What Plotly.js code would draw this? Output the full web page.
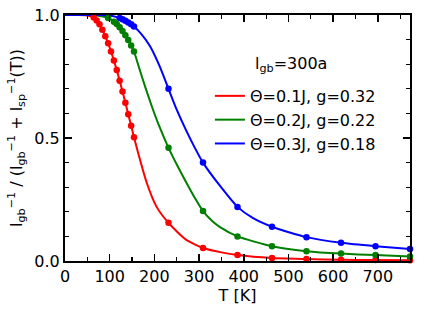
<!DOCTYPE html>
<html>
<head>
<meta charset="utf-8">
<script src="https://cdn.plot.ly/plotly-3.0.1.min.js"></script>
<style>html,body{margin:0;padding:0;background:#fff;}#chart{width:432px;height:309px;}</style>
</head>
<body>
<div id="chart"></div>
<script>
// Legend labels
const seriesNames = ["\u0398=0.1J, g=0.32", "\u0398=0.2J, g=0.22", "\u0398=0.3J, g=0.18"];
const seriesColors = ["#ff0000", "#008000", "#0000ff"];

// Marker temperatures (coarse grid, shared)
const T_coarse = [231.6, 308.8, 386, 463.2, 540.4, 617.6, 694.8, 772];
const red_coarse = [0.155, 0.053, 0.024, 0.012, 0.008, 0.005, 0.004, 0.003];
const green_coarse = [0.46, 0.203, 0.10, 0.06, 0.04, 0.03, 0.024, 0.018];
const blue_coarse = [0.70, 0.40, 0.22, 0.139, 0.097, 0.074, 0.060, 0.049];

// Dense marker temperatures
const red_T_dense = [64.3, 70.8, 77.2, 83.6, 90.1, 96.5, 102.9, 109.4, 115.8, 122.2, 128.7, 135.1, 141.5, 148.0, 154.4];
const red_dense = [0.990, 0.978, 0.962, 0.940, 0.914, 0.885, 0.852, 0.815, 0.776, 0.733, 0.689, 0.643, 0.597, 0.550, 0.503];
const green_T_dense = [96.5, 109.4, 115.8, 122.2, 128.7, 135.1, 141.5, 148.0, 154.4];
const green_dense = [0.988, 0.973, 0.963, 0.950, 0.935, 0.918, 0.898, 0.876, 0.852];
const blue_T_dense = [122.2, 128.7, 135.1, 141.5, 148.0, 154.4];
const blue_dense = [0.988, 0.983, 0.977, 0.970, 0.962, 0.953];

// Fitted curves
const red_T_curve = [0, 30, 45, 55, 64.3, 77.2, 90.1, 102.9, 115.8, 128.7, 141.5, 154.4, 165, 183, 205, 231.6, 270, 308.8, 350, 386, 463.2, 540.4, 617.6, 694.8, 772];
const red_curve = [1, 1, 0.999, 0.996, 0.990, 0.962, 0.914, 0.852, 0.776, 0.689, 0.597, 0.503, 0.43, 0.317, 0.22, 0.155, 0.088, 0.053, 0.035, 0.024, 0.012, 0.008, 0.005, 0.004, 0.003];
const green_T_curve = [0, 50, 70, 85, 96.5, 109.4, 122.2, 135.1, 148, 154.4, 165, 180, 195, 210, 231.6, 255, 272, 290, 308.8, 330, 347, 386, 463.2, 540.4, 617.6, 694.8, 772];
const green_curve = [1, 1, 0.998, 0.994, 0.988, 0.973, 0.95, 0.918, 0.876, 0.852, 0.79, 0.705, 0.625, 0.552, 0.46, 0.375, 0.317, 0.258, 0.203, 0.162, 0.138, 0.10, 0.06, 0.04, 0.03, 0.024, 0.018];
const blue_T_curve = [0, 80, 100, 122.2, 135.1, 148, 154.4, 170, 190, 211, 231.6, 250, 270, 290, 308.8, 347, 386, 420, 463.2, 540.4, 617.6, 694.8, 772];
const blue_curve = [1, 1, 0.998, 0.988, 0.977, 0.962, 0.953, 0.924, 0.874, 0.795, 0.70, 0.615, 0.535, 0.462, 0.40, 0.305, 0.22, 0.175, 0.139, 0.097, 0.074, 0.060, 0.049];

const xTicks = [0, 100, 200, 300, 400, 500, 600, 700];
const yTicks = [0.0, 0.5, 1.0];

const curves = [
  [red_T_curve, red_curve, red_T_dense.concat(T_coarse), red_dense.concat(red_coarse)],
  [green_T_curve, green_curve, green_T_dense.concat(T_coarse), green_dense.concat(green_coarse)],
  [blue_T_curve, blue_curve, blue_T_dense.concat(T_coarse), blue_dense.concat(blue_coarse)]
];

const traces = [];
curves.forEach((c, i) => {
  traces.push({x: c[0], y: c[1], mode: 'lines', name: seriesNames[i],
    line: {color: seriesColors[i], width: 2, shape: 'spline', smoothing: 0.6}, cliponaxis: false});
});
curves.forEach((c, i) => {
  traces.push({x: c[2], y: c[3], mode: 'markers', showlegend: false,
    marker: {color: seriesColors[i], size: 6.5}, cliponaxis: false});
});

const FONT = 'DejaVu Sans, sans-serif';
const layout = {
  width: 432, height: 309,
  margin: {l: 65, r: 22, t: 15, b: 48},
  paper_bgcolor: '#fff', plot_bgcolor: '#fff',
  font: {family: FONT, size: 16, color: '#000'},
  showlegend: true,
  legend: {x: 0.42, y: 0.74, xanchor: 'left', yanchor: 'top', bgcolor: 'rgba(0,0,0,0)',
    font: {family: FONT, size: 16, color: '#000'}, itemwidth: 30, tracegroupgap: 0},
  xaxis: {range: [0, 772], tickvals: xTicks, ticktext: xTicks.map(String),
    ticks: 'inside', ticklen: 7, tickwidth: 1.5, tickcolor: '#000',
    minor: {dtick: 50, tick0: 0, ticks: 'inside', ticklen: 4, tickwidth: 1.2, tickcolor: '#000'},
    showline: true, linecolor: '#000', linewidth: 2, mirror: 'allticks', showgrid: false, zeroline: false,
    title: {text: 'T [K]', font: {family: FONT, size: 16}, standoff: 4},
    tickfont: {family: FONT, size: 16}},
  yaxis: {range: [0, 1], tickvals: yTicks, ticktext: yTicks.map(v => v.toFixed(1)),
    ticks: 'inside', ticklen: 7, tickwidth: 1.5, tickcolor: '#000',
    minor: {dtick: 0.1, tick0: 0, ticks: 'inside', ticklen: 4, tickwidth: 1.2, tickcolor: '#000'},
    showline: true, linecolor: '#000', linewidth: 2, mirror: 'allticks', showgrid: false, zeroline: false,
    title: {text: 'l<sub>gb</sub><sup>\u22121</sup> / (l<sub>gb</sub><sup>\u22121</sup> + l<sub>sp</sub><sup>\u22121</sup>(T))', font: {family: FONT, size: 16}, standoff: 8},
    tickfont: {family: FONT, size: 16}},
  annotations: [{xref: 'paper', yref: 'paper', x: 0.545, y: 0.797, xanchor: 'left', yanchor: 'middle',
    text: 'l<sub>gb</sub>=300a', showarrow: false, font: {family: FONT, size: 16, color: '#000'}}]
};

Plotly.newPlot('chart', traces, layout, {staticPlot: true, displayModeBar: false});
</script>
</body>
</html>
